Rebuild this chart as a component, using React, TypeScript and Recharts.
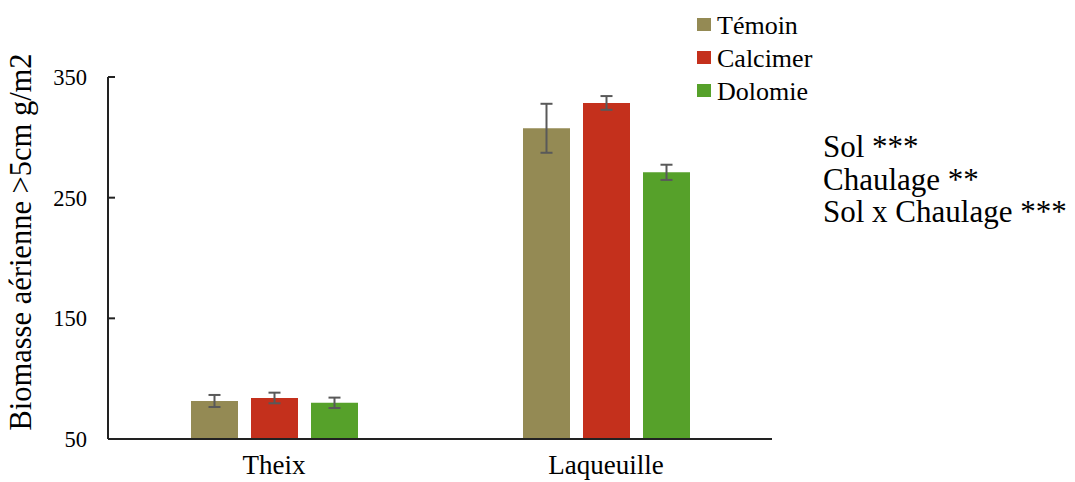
import { Bar, BarChart, ErrorBar, XAxis, YAxis } from "recharts";

const categories = ["Theix", "Laqueuille"];
const temoin = [81.5, 307.5];
const temoinErr = [5, 20.3];
const calcimer = [84, 328.5];
const calcimerErr = [4.4, 5.7];
const dolomie = [80, 271];
const dolomieErr = [4.3, 6.3];
const seriesNames = ["Témoin", "Calcimer", "Dolomie"];
const seriesColors = ["#948A54", "#C4301C", "#56A12A"];
const yTicks = [50, 150, 250, 350];
const effects = ["Sol ***", "Chaulage **", "Sol x Chaulage ***"];

const FONT = "'Times New Roman', 'Liberation Serif', serif";

const data = categories.map((name, i) => ({
  name,
  temoin: temoin[i],
  temoinErr: temoinErr[i],
  calcimer: calcimer[i],
  calcimerErr: calcimerErr[i],
  dolomie: dolomie[i],
  dolomieErr: dolomieErr[i],
}));

function YLabel({ viewBox }: { viewBox?: { x: number; y: number; width: number; height: number } }) {
  if (!viewBox) return null;
  const cx = viewBox.x - 7;
  const cy = viewBox.y + viewBox.height / 2 - 16;
  return (
    <text
      x={cx}
      y={cy}
      transform={`rotate(-90 ${cx} ${cy})`}
      textAnchor="middle"
      dominantBaseline="central"
      fontFamily={FONT}
      fontSize={30.5}
      fill="#000"
    >
      Biomasse aérienne &gt;5cm g/m2
    </text>
  );
}

export default function App() {
  return (
    <div style={{ position: "absolute", left: 0, top: 0, width: 1075, height: 482, background: "#fff" }}>
      <BarChart
        width={1075}
        height={482}
        data={data}
        barSize={47}
        barGap={13}
        margin={{ top: 77, right: 303, bottom: 0, left: 28 }}
      >
        <XAxis
          dataKey="name"
          height={43}
          axisLine={{ stroke: "#222", strokeWidth: 2 }}
          tickLine={false}
          tickSize={0}
          tickMargin={16}
          tick={{ fontFamily: FONT, fontSize: 27, fill: "#000" }}
        />
        {/* ticks point inward, like the original */}
        <YAxis
          width={80}
          domain={[50, 350]}
          ticks={yTicks}
          allowDataOverflow
          axisLine={{ stroke: "#222", strokeWidth: 2 }}
          tickLine={{ stroke: "#222", strokeWidth: 2 }}
          tickSize={-7}
          tickMargin={28}
          tick={{ fontFamily: FONT, fontSize: 22.5, fill: "#000" }}
          label={<YLabel />}
        />
        <Bar dataKey="temoin" name={seriesNames[0]} fill={seriesColors[0]} isAnimationActive={false}>
          <ErrorBar dataKey="temoinErr" width={6} stroke="#595959" strokeWidth={2} />
        </Bar>
        <Bar dataKey="calcimer" name={seriesNames[1]} fill={seriesColors[1]} isAnimationActive={false}>
          <ErrorBar dataKey="calcimerErr" width={6} stroke="#595959" strokeWidth={2} />
        </Bar>
        <Bar dataKey="dolomie" name={seriesNames[2]} fill={seriesColors[2]} isAnimationActive={false}>
          <ErrorBar dataKey="dolomieErr" width={6} stroke="#595959" strokeWidth={2} />
        </Bar>
      </BarChart>
      {/* legend */}
      <svg width={140} height={110} style={{ position: "absolute", left: 697, top: 0 }}>
        {seriesNames.map((name, i) => (
          <g key={name}>
            <rect x={0} y={18 + i * 33} width={14} height={13} fill={seriesColors[i]} />
            <text x={20} y={34 + i * 33} fontFamily={FONT} fontSize={26} fill="#000">
              {name}
            </text>
          </g>
        ))}
      </svg>
      {/* significance notes */}
      <svg width={255} height={120} style={{ position: "absolute", left: 820, top: 120 }}>
        {effects.map((line, i) => (
          <text key={line} x={3} y={37 + i * 32.5} fontFamily={FONT} fontSize={31} fill="#000">
            {line}
          </text>
        ))}
      </svg>
    </div>
  );
}
